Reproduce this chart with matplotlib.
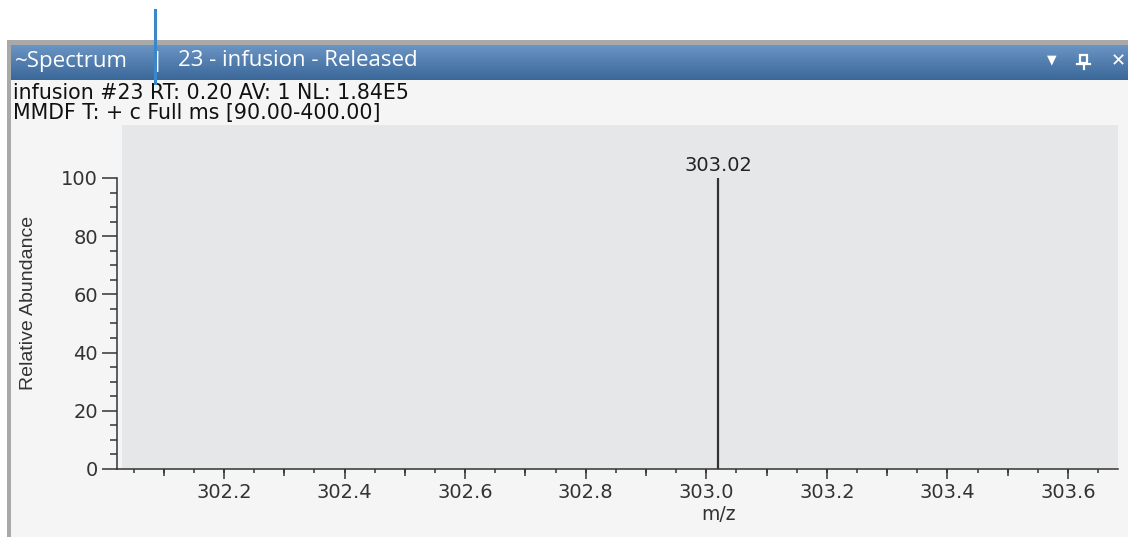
import numpy as np
import matplotlib
matplotlib.use("Agg")
import matplotlib.pyplot as plt
from matplotlib.patches import Rectangle
from matplotlib.lines import Line2D
from matplotlib.ticker import FixedLocator, MultipleLocator

# spectrum data
mz = [303.02]
intensity = [100]
peak_labels = ["303.02"]

x_ticks = [302.2, 302.4, 302.6, 302.8, 303.0, 303.2, 303.4, 303.6]
x_ticklabels = ["302.2", "302.4", "302.6", "302.8", "303.0", "303.2", "303.4", "303.6"]
y_ticks = [0, 20, 40, 60, 80, 100]
x_range = (302.0225, 303.683)
y_range = (0, 118.2)

title_left = "~Spectrum"
title_right = "23 - infusion - Released"
header_lines = ["infusion #23 RT: 0.20 AV: 1 NL: 1.84E5",
                "MMDF T: + c Full ms [90.00-400.00]"]
x_label = "m/z"
y_label = "Relative Abundance"

W, H = 1128, 539


def fx(x):
    return x / W


def fy(y):
    return 1 - y / H


fig = plt.figure(figsize=(W / 100, H / 100), dpi=100)
fig.patch.set_facecolor("white")

# window frame and content background (behind the axes)
fig.add_artist(Rectangle((fx(7), fy(537)), fx(W - 7), (537 - 40) / H,
                         transform=fig.transFigure, color="#a9a9a9", lw=0, zorder=-3))
fig.add_artist(Rectangle((fx(11), fy(537)), fx(W - 11), (537 - 45) / H,
                         transform=fig.transFigure, color="#f5f5f5", lw=0, zorder=-2))

# title bar gradient
tb = fig.add_axes([fx(11), fy(80), fx(W - 11), 35 / H])
top = np.array([0x6a, 0x94, 0xc4]) / 255
bot = np.array([0x3a, 0x68, 0x99]) / 255
t = np.linspace(0, 1, 64)[:, None]
grad = (top[None, :] * (1 - t) + bot[None, :] * t)[:, None, :]
tb.imshow(grad, aspect="auto", extent=(0, 1, 0, 1))
tb.set_axis_off()

fig.text(fx(15), fy(61), title_left, color="white", fontsize=16,
         family=["Open Sans", "DejaVu Sans"], va="center", ha="left", zorder=5)
fig.text(fx(158), fy(61), "|", color="white", fontsize=15,
         family=["Open Sans", "DejaVu Sans"], va="center", ha="center", zorder=5)
fig.text(fx(178), fy(61), title_right, color="white", fontsize=16,
         family=["Open Sans", "DejaVu Sans"], va="center", ha="left", zorder=5)

# title bar icons
fig.text(fx(1052), fy(60), "\u25bc", color="white", fontsize=9, family="DejaVu Sans",
         va="center", ha="center", zorder=5)
fig.add_artist(Rectangle((fx(1080), fy(63)), 7 / W, 8 / H, transform=fig.transFigure,
                         fill=False, ec="white", lw=1.6, zorder=5))
fig.add_artist(Line2D([fx(1077), fx(1090)], [fy(64), fy(64)], transform=fig.transFigure,
                      color="white", lw=1.6, zorder=5))
fig.add_artist(Line2D([fx(1083.5), fx(1083.5)], [fy(64), fy(69)], transform=fig.transFigure,
                      color="white", lw=1.6, zorder=5))
fig.text(fx(1118), fy(61), "\u2715", color="white", fontsize=13, fontweight="bold",
         family="DejaVu Sans", va="center", ha="center", zorder=5)

# header text
for i, line in enumerate(header_lines):
    fig.text(fx(13), fy(99 + 20 * i), line, color="#111111", fontsize=14.8,
             family="DejaVu Sans", va="baseline", ha="left")

# plot axes
ax = fig.add_axes([fx(117), fy(469), (1118 - 117) / W, (469 - 125) / H])
ax.set_facecolor("none")
ax.add_patch(Rectangle((0.005, 0), 0.995, 1, transform=ax.transAxes,
                       color="#e6e7e8", lw=0, zorder=0))

ax.vlines(mz, 0, intensity, color="#333333", lw=1.6, zorder=3)
for m, v, lab in zip(mz, intensity, peak_labels):
    ax.annotate(lab, (m, v), xytext=(0, 2), textcoords="offset points",
                ha="center", va="bottom", fontsize=14, color="#222222",
                family="DejaVu Sans")

ax.set_xlim(*x_range)
ax.set_ylim(*y_range)

for s in ["top", "right"]:
    ax.spines[s].set_visible(False)
for s in ["left", "bottom"]:
    ax.spines[s].set_color("#333333")
    ax.spines[s].set_linewidth(1.1)
ax.spines["left"].set_bounds(0, 100)

ax.xaxis.set_major_locator(FixedLocator(x_ticks))
ax.set_xticklabels(x_ticklabels)
ax.xaxis.set_minor_locator(MultipleLocator(0.1))
ax.yaxis.set_major_locator(FixedLocator(y_ticks))
ax.yaxis.set_minor_locator(FixedLocator(np.arange(0, 101, 5)))

ax.tick_params(axis="x", which="major", length=7.2, width=1.1, color="#333333",
               pad=3, labelsize=14, labelcolor="#333333")
ax.tick_params(axis="x", which="minor", length=5, width=1.1, color="#333333")
ax.tick_params(axis="y", which="major", length=10.8, width=1.1, color="#333333",
               pad=3, labelsize=14, labelcolor="#333333")
ax.tick_params(axis="y", which="minor", length=5, width=1.1, color="#333333")
for lab in ax.get_xticklabels() + ax.get_yticklabels():
    lab.set_family("DejaVu Sans")

# shortest ticks every 0.05 on a twin axis
ax2 = ax.twiny()
ax2.set_xlim(*x_range)
ax2.patch.set_visible(False)
for s in ax2.spines.values():
    s.set_visible(False)
ax2.xaxis.set_ticks_position("bottom")
ax2.xaxis.set_major_locator(MultipleLocator(0.05))
ax2.tick_params(axis="x", length=2.8, width=1.1, color="#333333",
                labelbottom=False, labeltop=False, top=False, bottom=True)

ax.text(0.601, -0.131, x_label, transform=ax.transAxes, ha="center", va="center",
        fontsize=13.5, color="#333333", family="DejaVu Sans")
ax.text(-0.0889, 0.4826, y_label, transform=ax.transAxes, rotation=90,
        ha="center", va="center", fontsize=14, color="#333333",
        family=["Liberation Sans Narrow", "Liberation Sans", "DejaVu Sans"])

# callout line
fig.add_artist(Line2D([fx(155), fx(155)], [fy(10), fy(83)], transform=fig.transFigure,
                      color="#3a87c9", lw=2.2, zorder=6))

fig.savefig("out.png", dpi=100)
